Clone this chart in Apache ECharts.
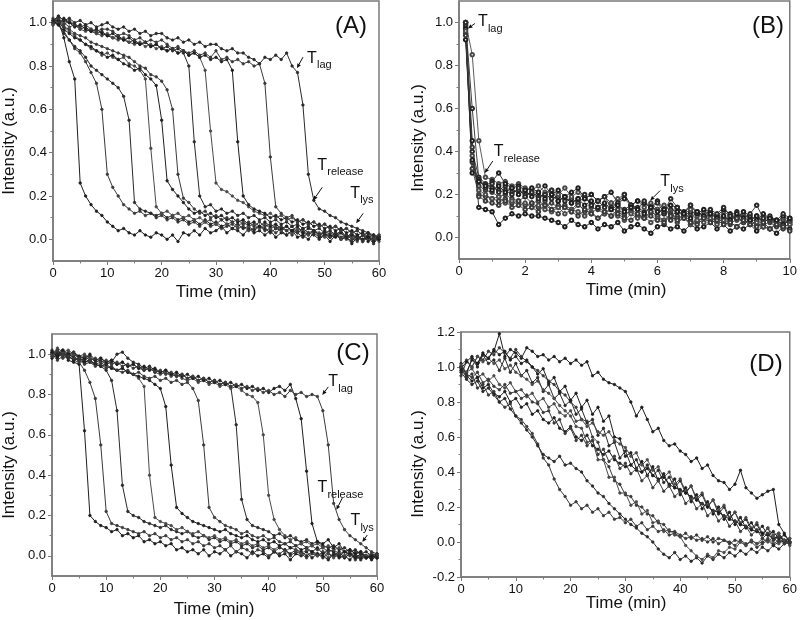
<!DOCTYPE html>
<html><head><meta charset="utf-8">
<script src="https://cdn.jsdelivr.net/npm/echarts@6/dist/echarts.min.js"></script>
<style>html,body{margin:0;padding:0;background:#fff}#c{width:800px;height:620px}</style>
</head><body><div id="c"></div>
<script>
// ---------- data ----------
const timeMin = [0,1,2,3,4,5,6,7,8,9,10,11,12,13,14,15,16,17,18,19,20,21,22,23,24,25,26,27,28,29,30,31,32,33,34,35,36,37,38,39,40,41,42,43,44,45,46,47,48,49,50,51,52,53,54,55,56,57,58,59,60];
const timeB = [0.2,0.4,0.6,0.8,1.0,1.2,1.4,1.6,1.8,2.0,2.2,2.4,2.6,2.8,3.0,3.2,3.4,3.6,3.8,4.0,4.2,4.4,4.6,4.8,5.0,5.2,5.4,5.6,5.8,6.0,6.2,6.4,6.6,6.8,7.0,7.2,7.4,7.6,7.8,8.0,8.2,8.4,8.6,8.8,9.0,9.2,9.4,9.6,9.8,10.0];

const A1 = [1.00,1.01,0.93,0.82,0.74,0.26,0.20,0.16,0.13,0.11,0.08,0.06,0.04,0.05,0.03,0.02,0.04,0.02,0.01,0.03,0.02,0.00,0.02,-0.01,0.03,0.02,0.04,0.02,0.05,0.03,0.04,0.06,0.03,0.05,0.04,0.02,0.05,0.03,0.04,0.02,0.04,0.01,0.03,0.02,0.04,0.01,0.02,0.00,0.03,0.01,0.02,-0.01,0.02,0.00,0.01,-0.02,0.01,0.00,0.02,-0.01,0.01];
const A2 = [1.00,0.99,0.96,0.92,0.88,0.86,0.82,0.77,0.72,0.60,0.30,0.24,0.20,0.16,0.14,0.12,0.13,0.11,0.12,0.10,0.11,0.09,0.10,0.08,0.09,0.07,0.08,0.06,0.08,0.06,0.07,0.05,0.06,0.07,0.05,0.06,0.04,0.05,0.06,0.04,0.05,0.03,0.05,0.04,0.02,0.04,0.03,0.02,0.04,0.02,0.03,0.01,0.02,0.03,0.00,0.02,0.01,-0.01,0.01,0.02,0.00];
const A3 = [1.01,0.99,0.95,0.92,0.89,0.87,0.84,0.80,0.78,0.76,0.74,0.72,0.70,0.66,0.55,0.17,0.14,0.13,0.12,0.11,0.12,0.10,0.11,0.09,0.10,0.08,0.09,0.07,0.09,0.07,0.08,0.06,0.07,0.05,0.07,0.05,0.06,0.04,0.06,0.05,0.03,0.05,0.04,0.02,0.04,0.03,0.01,0.03,0.02,0.00,0.02,0.01,0.03,0.00,0.01,-0.01,0.02,0.00,0.01,-0.02,0.01];
const A4 = [1.00,1.02,0.98,0.96,0.94,0.92,0.90,0.88,0.87,0.85,0.86,0.84,0.83,0.84,0.81,0.80,0.78,0.74,0.42,0.15,0.12,0.13,0.11,0.12,0.10,0.11,0.09,0.10,0.08,0.09,0.07,0.09,0.07,0.08,0.06,0.08,0.06,0.07,0.05,0.07,0.05,0.06,0.04,0.06,0.03,0.05,0.04,0.02,0.04,0.03,0.01,0.03,0.02,0.00,0.02,0.01,-0.01,0.02,0.00,0.01,-0.01];
const A5 = [0.99,1.01,0.97,0.95,0.93,0.92,0.90,0.89,0.87,0.86,0.84,0.85,0.83,0.81,0.80,0.78,0.79,0.76,0.74,0.71,0.55,0.27,0.23,0.20,0.17,0.14,0.12,0.13,0.11,0.12,0.10,0.11,0.09,0.10,0.08,0.09,0.07,0.08,0.06,0.08,0.06,0.07,0.05,0.06,0.04,0.06,0.03,0.05,0.04,0.02,0.04,0.02,0.01,0.03,0.01,0.02,0.00,0.02,-0.01,0.01,0.00];
const A6 = [1.02,1.00,0.98,0.97,0.95,0.94,0.93,0.91,0.90,0.89,0.88,0.87,0.86,0.85,0.84,0.82,0.80,0.79,0.76,0.75,0.73,0.69,0.60,0.30,0.19,0.17,0.14,0.12,0.13,0.10,0.11,0.09,0.10,0.08,0.09,0.07,0.08,0.06,0.08,0.06,0.07,0.05,0.06,0.04,0.06,0.03,0.05,0.03,0.04,0.02,0.03,0.01,0.03,0.01,0.02,0.00,0.02,-0.01,0.01,0.00,0.01];
const A7 = [1.00,1.03,1.01,1.00,0.99,0.97,0.98,0.96,0.95,0.96,0.94,0.93,0.94,0.92,0.91,0.92,0.90,0.91,0.89,0.90,0.88,0.89,0.87,0.88,0.86,0.80,0.45,0.20,0.15,0.16,0.13,0.14,0.12,0.13,0.11,0.12,0.10,0.11,0.09,0.10,0.08,0.09,0.07,0.08,0.06,0.07,0.05,0.06,0.04,0.05,0.03,0.04,0.02,0.04,0.01,0.03,0.00,0.02,0.01,-0.01,0.01];
const A8 = [0.99,1.02,1.00,0.98,0.99,0.97,0.96,0.97,0.95,0.94,0.95,0.93,0.92,0.93,0.91,0.90,0.91,0.89,0.90,0.88,0.89,0.87,0.88,0.86,0.87,0.85,0.86,0.84,0.78,0.50,0.26,0.23,0.22,0.20,0.18,0.17,0.15,0.13,0.12,0.11,0.12,0.10,0.11,0.09,0.10,0.08,0.09,0.07,0.08,0.06,0.07,0.05,0.06,0.04,0.05,0.03,0.04,0.02,0.03,0.01,0.02];
const A9 = [1.01,0.99,1.02,1.00,0.98,0.99,0.97,0.96,0.97,0.95,0.94,0.95,0.93,0.92,0.93,0.91,0.90,0.91,0.89,0.90,0.88,0.87,0.88,0.86,0.87,0.85,0.86,0.84,0.85,0.83,0.84,0.82,0.83,0.78,0.45,0.20,0.16,0.14,0.13,0.12,0.10,0.11,0.09,0.10,0.08,0.09,0.07,0.08,0.06,0.07,0.05,0.06,0.04,0.05,0.03,0.04,0.02,0.03,0.01,0.02,0.00];
const A10 = [1.00,1.02,0.99,1.01,0.99,0.98,0.99,0.97,0.96,0.97,0.97,0.96,0.94,0.95,0.94,0.92,0.93,0.91,0.92,0.91,0.92,0.90,0.88,0.89,0.87,0.86,0.87,0.85,0.86,0.84,0.87,0.83,0.84,0.82,0.83,0.81,0.82,0.80,0.81,0.72,0.38,0.15,0.12,0.10,0.11,0.08,0.09,0.07,0.08,0.06,0.07,0.05,0.06,0.04,0.05,0.03,0.04,0.02,0.03,0.01,0.02];
const A11 = [1.01,1.03,1.01,1.02,1.00,1.01,0.99,1.00,0.98,0.99,1.00,0.98,0.97,0.98,0.96,0.97,0.95,0.96,0.94,0.95,0.95,0.93,0.92,0.93,0.91,0.92,0.90,0.91,0.89,0.90,0.90,0.88,0.87,0.88,0.86,0.86,0.84,0.83,0.81,0.84,0.83,0.85,0.83,0.86,0.80,0.77,0.62,0.30,0.18,0.14,0.13,0.11,0.10,0.08,0.07,0.06,0.05,0.04,0.03,0.02,0.01];

const B1 = [1.00,0.45,0.14,0.13,0.12,0.06,0.09,0.11,0.10,0.11,0.10,0.10,0.09,0.08,0.07,0.05,0.08,0.06,0.05,0.07,0.04,0.06,0.05,0.07,0.03,0.05,0.06,0.04,0.02,0.05,0.06,0.04,0.05,0.03,0.06,0.04,0.05,0.07,0.04,0.06,0.03,0.05,0.04,0.06,0.03,0.05,0.04,0.02,0.05,0.04];
const B2 = [0.98,0.35,0.24,0.22,0.21,0.19,0.20,0.18,0.17,0.19,0.16,0.17,0.15,0.16,0.14,0.15,0.13,0.16,0.12,0.14,0.13,0.11,0.14,0.12,0.10,0.13,0.11,0.09,0.12,0.10,0.11,0.08,0.10,0.09,0.11,0.08,0.09,0.10,0.07,0.09,0.08,0.10,0.07,0.08,0.06,0.09,0.07,0.05,0.08,0.06];
const B3 = [0.99,0.40,0.28,0.25,0.23,0.22,0.24,0.21,0.22,0.20,0.21,0.19,0.20,0.18,0.19,0.17,0.18,0.16,0.19,0.15,0.17,0.14,0.16,0.15,0.13,0.15,0.14,0.12,0.14,0.13,0.11,0.13,0.12,0.10,0.12,0.11,0.09,0.11,0.10,0.08,0.10,0.09,0.11,0.08,0.10,0.07,0.09,0.08,0.06,0.08];
const B4 = [1.00,0.85,0.45,0.28,0.27,0.25,0.26,0.24,0.25,0.23,0.22,0.24,0.21,0.22,0.20,0.23,0.19,0.21,0.18,0.20,0.17,0.19,0.16,0.18,0.20,0.15,0.17,0.14,0.16,0.13,0.15,0.12,0.14,0.11,0.13,0.10,0.12,0.11,0.09,0.12,0.10,0.08,0.11,0.09,0.07,0.10,0.08,0.07,0.09,0.07];
const B5 = [0.97,0.30,0.27,0.24,0.26,0.30,0.25,0.23,0.24,0.22,0.23,0.21,0.24,0.20,0.22,0.19,0.21,0.23,0.18,0.20,0.17,0.19,0.21,0.16,0.18,0.15,0.17,0.16,0.14,0.17,0.13,0.15,0.14,0.12,0.15,0.11,0.13,0.12,0.10,0.13,0.11,0.09,0.12,0.10,0.08,0.11,0.09,0.07,0.10,0.08];
const B6 = [0.95,0.32,0.20,0.19,0.18,0.17,0.18,0.16,0.17,0.15,0.16,0.14,0.17,0.13,0.15,0.14,0.12,0.15,0.13,0.11,0.14,0.12,0.10,0.13,0.11,0.12,0.10,0.09,0.12,0.10,0.08,0.11,0.09,0.10,0.08,0.07,0.10,0.08,0.09,0.07,0.06,0.09,0.07,0.08,0.06,0.05,0.08,0.06,0.04,0.07];
const B7 = [1.00,0.60,0.27,0.23,0.25,0.21,0.22,0.20,0.23,0.19,0.21,0.18,0.20,0.22,0.17,0.19,0.16,0.18,0.20,0.15,0.17,0.19,0.14,0.16,0.20,0.15,0.13,0.17,0.14,0.16,0.12,0.18,0.14,0.11,0.15,0.12,0.10,0.13,0.11,0.14,0.10,0.12,0.09,0.11,0.15,0.09,0.10,0.08,0.11,0.09];
const B8 = [0.96,0.38,0.22,0.20,0.18,0.19,0.16,0.17,0.15,0.16,0.14,0.15,0.13,0.12,0.14,0.11,0.13,0.12,0.10,0.12,0.09,0.11,0.13,0.10,0.08,0.11,0.09,0.10,0.07,0.09,0.08,0.10,0.07,0.09,0.06,0.08,0.07,0.09,0.06,0.08,0.07,0.05,0.08,0.06,0.07,0.05,0.04,0.07,0.05,0.06];
const B9 = [0.92,0.36,0.26,0.24,0.22,0.24,0.21,0.23,0.20,0.22,0.19,0.21,0.18,0.20,0.17,0.19,0.16,0.18,0.15,0.17,0.14,0.16,0.13,0.15,0.12,0.14,0.13,0.11,0.14,0.12,0.13,0.10,0.12,0.11,0.09,0.12,0.10,0.11,0.09,0.10,0.08,0.11,0.09,0.08,0.10,0.07,0.09,0.08,0.06,0.09];
const B10 = [0.94,0.42,0.19,0.17,0.16,0.15,0.17,0.14,0.15,0.13,0.14,0.12,0.15,0.13,0.11,0.14,0.12,0.10,0.13,0.11,0.09,0.12,0.10,0.11,0.09,0.08,0.11,0.09,0.10,0.08,0.07,0.10,0.08,0.09,0.07,0.06,0.09,0.07,0.08,0.06,0.07,0.05,0.08,0.06,0.05,0.07,0.04,0.06,0.05,0.03];

const C1 = [1.00,0.98,1.01,0.97,0.96,0.95,0.62,0.20,0.17,0.15,0.14,0.12,0.13,0.10,0.11,0.09,0.10,0.07,0.08,0.06,0.07,0.05,0.06,0.03,0.04,0.02,0.03,0.01,0.03,0.00,0.02,0.01,0.03,0.00,0.02,0.01,-0.01,0.02,0.00,0.01,-0.01,0.02,0.00,0.01,-0.02,0.01,0.00,0.02,-0.01,0.01,0.00,-0.02,0.01,-0.01,0.00,-0.02,0.01,-0.01,0.00,-0.02,0.00];
const C2 = [0.99,1.01,0.98,0.99,0.97,0.96,0.92,0.86,0.78,0.55,0.22,0.16,0.15,0.14,0.13,0.12,0.11,0.12,0.10,0.11,0.09,0.10,0.08,0.09,0.07,0.08,0.06,0.07,0.05,0.06,0.04,0.05,0.03,0.05,0.02,0.04,0.03,0.01,0.03,0.02,0.00,0.02,0.01,0.03,0.00,0.02,0.01,-0.01,0.01,0.00,0.02,-0.01,0.01,0.00,-0.01,0.01,-0.02,0.00,-0.01,0.01,-0.01];
const C3 = [1.01,0.99,1.00,0.98,0.99,0.97,0.96,0.97,0.95,0.94,0.92,0.87,0.72,0.35,0.22,0.20,0.19,0.17,0.16,0.15,0.14,0.15,0.13,0.12,0.11,0.12,0.10,0.09,0.10,0.08,0.09,0.07,0.08,0.06,0.07,0.05,0.06,0.04,0.05,0.03,0.04,0.02,0.04,0.03,0.01,0.03,0.02,0.00,0.02,0.01,-0.01,0.01,0.00,0.02,-0.01,0.01,0.00,-0.02,0.00,-0.01,0.01];
const C4 = [1.00,1.02,0.99,1.00,0.98,0.97,0.98,0.96,0.95,0.96,0.94,0.93,0.92,0.93,0.91,0.90,0.88,0.84,0.40,0.19,0.17,0.16,0.15,0.13,0.14,0.12,0.11,0.12,0.10,0.09,0.10,0.08,0.09,0.07,0.08,0.06,0.07,0.05,0.06,0.04,0.05,0.03,0.05,0.02,0.04,0.03,0.01,0.03,0.02,0.00,0.02,0.01,-0.01,0.01,0.00,0.02,-0.01,0.01,-0.01,0.00,-0.01];
const C5 = [0.98,1.00,1.02,0.99,0.97,0.98,0.96,0.97,0.95,0.94,0.95,0.93,0.92,0.93,0.91,0.90,0.89,0.88,0.87,0.85,0.83,0.74,0.45,0.24,0.21,0.19,0.17,0.16,0.15,0.14,0.13,0.12,0.13,0.11,0.10,0.09,0.10,0.08,0.07,0.08,0.06,0.07,0.05,0.06,0.04,0.05,0.03,0.04,0.02,0.04,0.01,0.03,0.02,0.00,0.02,0.01,-0.01,0.01,0.00,-0.01,0.00];
const C6 = [1.00,0.97,0.99,1.01,0.98,0.97,0.95,0.96,0.94,0.95,0.93,0.94,0.92,0.91,0.92,0.90,0.91,0.89,0.88,0.89,0.87,0.88,0.86,0.87,0.85,0.86,0.83,0.77,0.55,0.24,0.19,0.17,0.15,0.14,0.13,0.11,0.12,0.10,0.09,0.10,0.08,0.09,0.07,0.06,0.07,0.05,0.06,0.04,0.05,0.03,0.04,0.02,0.03,0.01,0.02,0.00,0.02,0.01,-0.01,0.01,0.00];
const C7 = [1.02,1.00,1.01,0.99,1.00,0.98,0.97,0.99,0.96,0.97,0.95,0.96,1.00,1.01,0.98,0.96,0.95,0.93,0.94,0.92,0.91,0.92,0.90,0.89,0.90,0.88,0.89,0.87,0.88,0.86,0.87,0.85,0.86,0.84,0.65,0.28,0.18,0.15,0.14,0.13,0.12,0.10,0.11,0.09,0.10,0.08,0.07,0.08,0.06,0.07,0.05,0.04,0.05,0.03,0.04,0.02,0.03,0.01,0.02,0.00,0.01];
const C8 = [1.00,1.03,1.01,1.02,1.00,0.99,1.00,0.98,0.97,0.98,0.96,0.97,0.95,0.96,0.94,0.95,0.93,0.92,0.93,0.91,0.90,0.91,0.89,0.90,0.88,0.87,0.88,0.86,0.87,0.85,0.86,0.84,0.85,0.83,0.84,0.82,0.80,0.79,0.76,0.60,0.30,0.18,0.13,0.10,0.08,0.09,0.06,0.07,0.05,0.06,0.04,0.05,0.03,0.04,0.02,0.03,0.01,0.02,0.00,0.01,-0.01];
const C9 = [1.01,0.99,1.02,1.00,1.01,0.99,0.98,1.00,0.97,0.98,0.96,0.97,0.95,0.96,0.94,0.95,0.93,0.94,0.92,0.93,0.91,0.92,0.90,0.91,0.89,0.90,0.88,0.89,0.87,0.88,0.86,0.87,0.85,0.86,0.84,0.85,0.83,0.84,0.82,0.83,0.81,0.83,0.84,0.82,0.85,0.78,0.68,0.42,0.16,0.07,0.06,0.08,0.04,0.06,0.02,0.03,0.01,0.02,-0.01,0.00,-0.01];
const C10 = [0.99,1.02,1.00,0.99,1.01,0.98,0.99,0.97,0.98,0.96,0.97,0.95,0.96,0.94,0.95,0.93,0.94,0.92,0.93,0.91,0.92,0.90,0.91,0.89,0.90,0.88,0.89,0.87,0.88,0.86,0.87,0.85,0.86,0.84,0.85,0.83,0.84,0.82,0.83,0.81,0.82,0.80,0.81,0.79,0.82,0.80,0.81,0.79,0.80,0.79,0.72,0.55,0.26,0.18,0.13,0.10,0.08,0.06,0.04,0.02,0.01];

const D1 = [1.00,0.97,1.04,1.02,1.07,1.05,1.09,1.19,1.06,1.10,1.08,1.05,1.11,1.09,1.06,1.07,1.04,1.06,1.03,1.05,1.02,1.04,1.01,1.03,0.95,0.97,0.93,0.91,0.90,0.88,0.86,0.80,0.72,0.77,0.70,0.63,0.65,0.58,0.55,0.56,0.52,0.50,0.46,0.48,0.42,0.44,0.38,0.35,0.34,0.30,0.33,0.41,0.31,0.28,0.25,0.27,0.29,0.30,0.10,0.05,0.00];
const D2 = [0.95,1.03,1.00,1.06,1.04,1.09,1.07,1.11,1.08,1.05,1.10,1.06,1.03,1.00,0.98,0.95,0.92,0.90,0.86,0.84,0.80,0.77,0.70,0.69,0.60,0.57,0.47,0.43,0.35,0.33,0.27,0.26,0.21,0.20,0.16,0.15,0.11,0.10,0.06,0.06,0.04,0.02,0.03,0.01,0.02,0.00,0.02,-0.01,0.01,0.00,-0.02,0.01,-0.01,0.00,-0.03,-0.01,0.01,-0.02,0.00,0.01,-0.01];
const D3 = [1.02,0.96,1.05,1.00,1.07,1.02,1.04,0.98,1.05,0.97,1.02,0.95,0.98,0.91,0.94,0.86,0.90,0.82,0.85,0.78,0.81,0.73,0.76,0.68,0.70,0.61,0.65,0.55,0.57,0.48,0.52,0.44,0.47,0.40,0.44,0.38,0.41,0.34,0.37,0.31,0.35,0.28,0.32,0.24,0.27,0.20,0.24,0.16,0.20,0.13,0.17,0.10,0.13,0.07,0.10,0.04,0.08,0.01,0.05,0.00,0.02];
const D4 = [1.00,0.97,0.99,0.94,0.96,0.92,0.95,0.90,0.88,0.91,0.86,0.87,0.83,0.85,0.80,0.82,0.77,0.79,0.74,0.72,0.75,0.69,0.70,0.66,0.68,0.63,0.61,0.63,0.58,0.56,0.54,0.49,0.51,0.44,0.47,0.41,0.43,0.37,0.40,0.33,0.36,0.29,0.32,0.25,0.28,0.21,0.24,0.18,0.21,0.14,0.17,0.11,0.14,0.08,0.11,0.05,0.08,0.04,0.05,0.01,0.02];
const D5 = [0.98,0.95,0.92,0.94,0.88,0.90,0.85,0.83,0.86,0.80,0.82,0.77,0.79,0.73,0.75,0.70,0.68,0.71,0.65,0.63,0.66,0.60,0.58,0.61,0.55,0.53,0.50,0.52,0.47,0.45,0.43,0.44,0.41,0.40,0.42,0.38,0.36,0.37,0.33,0.31,0.30,0.28,0.26,0.24,0.22,0.20,0.18,0.17,0.15,0.13,0.12,0.10,0.09,0.07,0.06,0.05,0.04,0.02,0.03,0.01,0.00];
const D6 = [1.00,0.94,0.96,0.88,0.90,0.84,0.86,0.80,0.77,0.79,0.72,0.70,0.66,0.62,0.56,0.48,0.44,0.36,0.30,0.26,0.21,0.23,0.19,0.21,0.17,0.19,0.15,0.17,0.13,0.14,0.11,0.13,0.09,0.11,0.07,0.09,0.06,0.07,0.04,0.05,0.03,0.05,0.02,0.04,0.01,0.03,0.00,0.02,0.01,-0.01,0.01,0.00,-0.02,0.01,-0.01,0.00,0.02,-0.01,0.01,0.00,-0.01];
const D7 = [0.97,0.93,0.90,0.92,0.86,0.88,0.84,0.80,0.82,0.76,0.72,0.68,0.64,0.60,0.55,0.50,0.48,0.46,0.49,0.44,0.45,0.42,0.40,0.35,0.32,0.28,0.26,0.22,0.19,0.16,0.13,0.10,0.08,0.05,0.03,0.00,-0.04,-0.07,-0.09,-0.06,-0.10,-0.08,-0.11,-0.09,-0.12,-0.08,-0.10,-0.07,-0.09,-0.06,-0.08,-0.05,-0.07,-0.04,-0.06,-0.03,-0.05,-0.02,-0.04,-0.01,0.00];
const D8 = [1.01,1.04,1.00,1.06,1.03,1.05,1.02,1.04,0.99,1.01,0.97,0.95,0.93,0.90,0.92,0.87,0.85,0.82,0.78,0.75,0.72,0.66,0.65,0.57,0.58,0.47,0.47,0.37,0.37,0.28,0.28,0.21,0.23,0.16,0.18,0.11,0.12,0.06,0.07,0.04,0.03,-0.02,-0.05,-0.08,-0.10,-0.07,-0.09,-0.05,-0.06,-0.03,-0.04,0.00,-0.02,0.01,-0.01,0.02,0.00,0.03,-0.01,0.01,-0.02];
const D9 = [0.99,1.03,1.06,1.02,1.08,1.05,1.10,1.07,1.09,1.04,1.06,1.02,1.04,1.00,0.96,0.99,0.91,0.94,0.86,0.89,0.81,0.85,0.77,0.81,0.73,0.77,0.69,0.72,0.60,0.59,0.49,0.51,0.42,0.46,0.38,0.43,0.35,0.39,0.32,0.36,0.27,0.31,0.23,0.27,0.19,0.23,0.16,0.20,0.13,0.17,0.10,0.14,0.08,0.11,0.06,0.09,0.04,0.06,0.02,0.04,0.00];
const D10 = [1.00,0.96,0.94,0.97,0.91,0.93,0.89,0.87,0.90,0.85,0.86,0.82,0.84,0.80,0.79,0.74,0.75,0.68,0.70,0.62,0.65,0.58,0.61,0.55,0.58,0.50,0.53,0.46,0.49,0.42,0.45,0.39,0.42,0.35,0.38,0.31,0.35,0.29,0.32,0.26,0.29,0.22,0.25,0.19,0.22,0.15,0.18,0.12,0.15,0.09,0.12,0.06,0.09,0.04,0.07,0.02,0.05,0.01,0.03,-0.01,0.00];

const panelA = [A1,A2,A3,A4,A5,A6,A7,A8,A9,A10,A11];
const panelB = [B1,B2,B3,B4,B5,B6,B7,B8,B9,B10];
const panelC = [C1,C2,C3,C4,C5,C6,C7,C8,C9,C10];
const panelD = [D1,D2,D3,D4,D5,D6,D7,D8,D9,D10];

const yLabelTicks = [0,0.2,0.4,0.6,0.8,1.0];
const yMinorTicks = [0.1,0.3,0.5,0.7,0.9];
const panelLetters = ['(A)','(B)','(C)','(D)'];
const xTitle = 'Time (min)';
const yTitle = 'Intensity (a.u.)';

// annotations: grid, tip in data coords, subscript text
const annotations = [
  {g:0, tip:[44.9,0.79], sub:'lag', tail:[6,-11], t:[10,-10]},
  {g:0, tip:[47.9,0.18], sub:'release', tail:[9,-13], t:[4,-35]},
  {g:0, tip:[55.8,0.074], sub:'lys', tail:[7,-10], t:[-6,-30]},
  {g:1, tip:[0.27,0.972], sub:'lag', tail:[7,-5], t:[10,-7]},
  {g:1, tip:[0.78,0.30], sub:'release', tail:[8,-12], t:[9,-21]},
  {g:1, tip:[5.78,0.172], sub:'lys', tail:[10,-10], t:[10,-19]},
  {g:2, tip:[49.9,0.798], sub:'lag', tail:[6,-8], t:[6,-13]},
  {g:2, tip:[52.5,0.228], sub:'release', tail:[6,-12], t:[-19,-22]},
  {g:2, tip:[57.3,0.069], sub:'lys', tail:[5,-7], t:[-12,-21]}
];

// ---------- chart ----------
const FONT = 'Liberation Sans, Arial, sans-serif';
const AX = '#7a7a7a';
const chart = echarts.init(document.getElementById('c'), null, {renderer:'canvas'});

const grids = [
  {left:53, top:1, width:326, height:260},
  {left:459, top:1, width:334, height:258},
  {left:52, top:334, width:325, height:242},
  {left:461, top:332, width:329, height:245}
].map(g => Object.assign(g, {show:true, borderColor:AX, borderWidth:1.5, backgroundColor:'transparent'}));

function xAx(gi, max, interval){
  return {gridIndex:gi, type:'value', min:0, max:max, interval:interval,
    axisLine:{show:true, onZero:false, lineStyle:{color:AX, width:1.5}},
    axisTick:{show:true, length:4, lineStyle:{color:AX}},
    minorTick:{show:true, splitNumber:2, length:2.5, lineStyle:{color:AX}},
    splitLine:{show:false},
    axisLabel:{color:'#111', fontSize:13, fontFamily:FONT, margin:6}};
}
function yMain(gi){
  return {gridIndex:gi, type:'value', min:-0.1, max:1.1, position:'left',
    axisLine:{show:true, onZero:false, lineStyle:{color:AX, width:1.5}},
    axisTick:{show:true, length:4, customValues:yLabelTicks, lineStyle:{color:AX}},
    splitLine:{show:false},
    axisLabel:{color:'#111', fontSize:13, fontFamily:FONT, margin:6, customValues:yLabelTicks,
      formatter: v => Number(v).toFixed(1)}};
}
function yMinor(gi){
  return {gridIndex:gi, type:'value', min:-0.1, max:1.1, position:'left',
    axisLine:{show:false}, splitLine:{show:false},
    axisTick:{show:true, length:2.5, customValues:yMinorTicks, lineStyle:{color:AX}},
    axisLabel:{show:false, customValues:yMinorTicks}};
}
const xAxes = [xAx(0,60,10), xAx(1,10,2), xAx(2,60,10), xAx(3,60,10)];
const yAxes = [yMain(0), yMinor(0), yMain(1), yMinor(1), yMain(2), yMinor(2),
  {gridIndex:3, type:'value', min:-0.2, max:1.2, interval:0.2, position:'left',
    axisLine:{show:true, onZero:false, lineStyle:{color:AX, width:1.5}},
    axisTick:{show:true, length:4, lineStyle:{color:AX}},
    minorTick:{show:true, splitNumber:2, length:2.5, lineStyle:{color:AX}},
    splitLine:{show:false},
    axisLabel:{color:'#111', fontSize:13, fontFamily:FONT, margin:6, formatter: v => Number(v).toFixed(1)}}];
const yMainIdx = [0,2,4,6];

const shades = ['#1e1e1e','#3a3a3a','#2a2a2a','#4a4a4a'];
const series = [];
function addPanel(gi, arrays, times, hollow){
  arrays.forEach((arr, k) => {
    const c = shades[k % shades.length];
    series.push({type:'line', xAxisIndex:gi, yAxisIndex:yMainIdx[gi],
      data: times.map((t,i) => [t, arr[i]]),
      symbol: hollow ? 'emptyCircle' : 'circle', symbolSize: hollow ? 3.5 : 2.5,
      showSymbol:true, showAllSymbol:true, silent:true, clip:true,
      lineStyle:{color:c, width: hollow ? 0.9 : 1}, itemStyle:{color:c, borderColor:c, borderWidth: hollow ? 0.6 : 0.8}});
  });
}
addPanel(0, panelA, timeMin, false);
addPanel(1, panelB, timeB, true);
addPanel(2, panelC, timeMin, false);
addPanel(3, panelD, timeMin, false);

function txt(text, x, y, size, rot){
  return {type:'text', x:x, y:y, rotation: rot ? Math.PI/2 : 0, z:100, silent:true,
    style:{text:text, fill:'#111', font: size + 'px ' + FONT, fontSize:size, fontFamily:FONT,
      align:'center', verticalAlign:'middle', textAlign:'center', textVerticalAlign:'middle'}};
}
const staticGraphics = [
  txt(xTitle, 216, 292, 17), txt(yTitle, 9, 141, 17, true),
  txt(xTitle, 626, 290, 17), txt(yTitle, 418, 138, 17, true),
  txt(xTitle, 214, 609, 17), txt(yTitle, 9, 465, 17, true),
  txt(xTitle, 626, 603, 17), txt(yTitle, 418, 464, 17, true),
  txt(panelLetters[0], 351, 26, 24), txt(panelLetters[1], 768, 26, 24),
  txt(panelLetters[2], 353, 353, 24), txt(panelLetters[3], 766, 364, 24)
];

chart.setOption({animation:false, backgroundColor:'#fff', grid:grids, xAxis:xAxes, yAxis:yAxes, series:series,
  graphic:{elements:staticGraphics}});

// annotations positioned from data coordinates
const annGraphics = [];
annotations.forEach(a => {
  const p = chart.convertToPixel({xAxisIndex:a.g, yAxisIndex:yMainIdx[a.g]}, a.tip);
  const tx = p[0] + a.tail[0], ty = p[1] + a.tail[1];
  const dx = p[0]-tx, dy = p[1]-ty, L = Math.sqrt(dx*dx+dy*dy);
  const ux = dx/L, uy = dy/L, hl = 4.5, hw = 2;
  const bx = p[0]-ux*hl, by = p[1]-uy*hl;
  annGraphics.push({type:'line', z:100, silent:true, shape:{x1:tx, y1:ty, x2:bx, y2:by}, style:{stroke:'#111', lineWidth:1}});
  annGraphics.push({type:'polygon', z:100, silent:true, shape:{points:[[p[0],p[1]],[bx-uy*hw,by+ux*hw],[bx+uy*hw,by-ux*hw]]}, style:{fill:'#111'}});
  const Tx = p[0] + a.t[0], Ty = p[1] + a.t[1];
  annGraphics.push({type:'text', z:100, silent:true, x:Tx, y:Ty,
    style:{text:'T', fill:'#111', font:'16px '+FONT, fontSize:16, fontFamily:FONT, align:'left', verticalAlign:'middle', textAlign:'left', textVerticalAlign:'middle'}});
  annGraphics.push({type:'text', z:100, silent:true, x:Tx+10, y:Ty+7,
    style:{text:a.sub, fill:'#111', font:'11px '+FONT, fontSize:11, fontFamily:FONT, align:'left', verticalAlign:'middle', textAlign:'left', textVerticalAlign:'middle'}});
});
chart.setOption({graphic:{elements: staticGraphics.concat(annGraphics)}});
</script>
</body></html>
